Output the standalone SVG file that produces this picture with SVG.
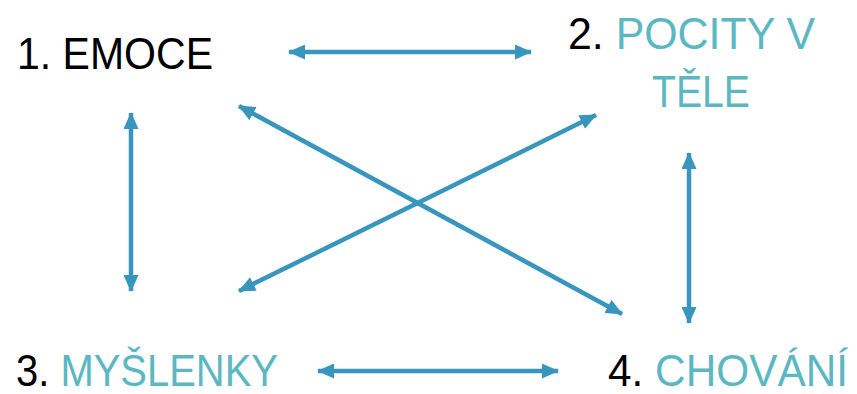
<svg xmlns="http://www.w3.org/2000/svg" width="857" height="394" viewBox="0 0 857 394">
<style>
text{font-family:"Liberation Sans","DejaVu Sans",sans-serif;font-size:44px;fill:#000}
.t{fill:#5BB8C3}
.c line{stroke:#3896BE;stroke-width:4.5;fill:none;marker-start:url(#a);marker-end:url(#a)}
</style>
<defs>
<marker id="a" viewBox="0 0 17 15" refX="16" refY="7.5" markerWidth="17" markerHeight="15" markerUnits="userSpaceOnUse" orient="auto-start-reverse">
<path d="M0,0 L17,7.5 L0,15 Z" fill="#3896BE"/>
</marker>
</defs>
<rect width="857" height="394" fill="#fff"/>
<g id="n1"><text x="17" y="69" textLength="196" lengthAdjust="spacingAndGlyphs">1. EMOCE</text></g>
<g id="n2"><text x="568" y="49" textLength="247" lengthAdjust="spacingAndGlyphs">2. <tspan class="t">POCITY V</tspan></text>
<text class="t" x="652" y="107" textLength="98" lengthAdjust="spacingAndGlyphs">TĚLE</text></g>
<g id="n3"><text x="16" y="386" textLength="262" lengthAdjust="spacingAndGlyphs">3. <tspan class="t">MYŠLENKY</tspan></text></g>
<g id="n4"><text x="608" y="386" textLength="240" lengthAdjust="spacingAndGlyphs">4. <tspan class="t">CHOVÁNÍ</tspan></text></g>
<g class="c" id="connectors">
<line x1="289" y1="52" x2="531" y2="52"/>
<line x1="131" y1="113" x2="131" y2="291"/>
<line x1="689" y1="153" x2="689" y2="323"/>
<line x1="318" y1="371" x2="558" y2="371"/>
<line x1="239" y1="106" x2="622" y2="314"/>
<line x1="239" y1="291" x2="596" y2="115"/>
</g>
</svg>
